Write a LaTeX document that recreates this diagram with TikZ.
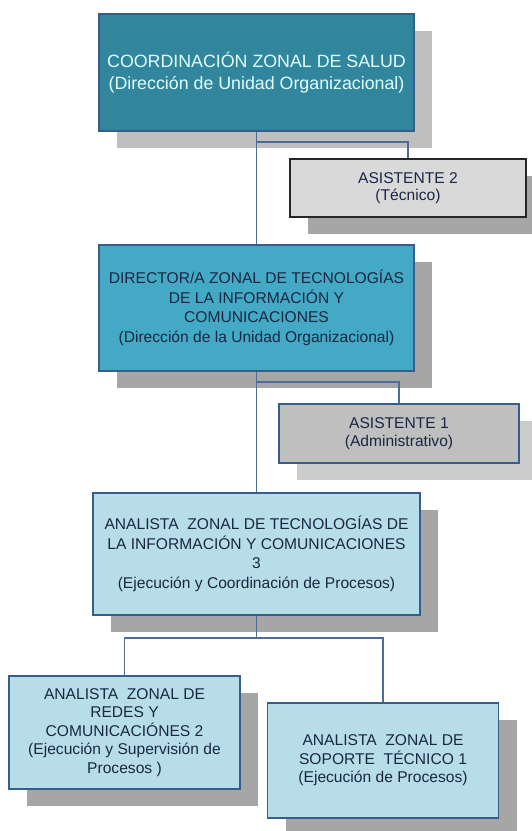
\documentclass[tikz,border=0pt]{standalone}
\usepackage{fontspec}
\setmainfont{Liberation Sans}
\usepackage[HTML]{xcolor}
\usetikzlibrary{positioning, shadows}

\definecolor{tealdark}{HTML}{31859C}
\definecolor{tealmid}{HTML}{44A9C4}
\definecolor{bluelight}{HTML}{B7DEE8}
\definecolor{boxline}{HTML}{385D8A}
\definecolor{linkline}{HTML}{4F6D94}
\definecolor{textnavy}{HTML}{1A2744}
\definecolor{shadelight}{HTML}{BFBFBF}
\definecolor{shadedark}{HTML}{A6A6A6}

\begin{document}
\begin{tikzpicture}[x=1pt, y=-1pt,
    box/.style={draw=boxline, line width=1.7pt, align=center, inner sep=2pt,
        text=textnavy, font=\fontsize{15.6}{19.5}\selectfont},
    shade/.style={drop shadow={shadow xshift=18pt, shadow yshift=-17pt, fill=#1, opacity=1}},
    link/.style={draw=linkline, line width=1.8pt}]

    \useasboundingbox (0,0) rectangle (531,831);

    % 1. Define Nodes
    \node (CZS) [box, shade=shadelight, fill=tealdark, text=white!88!cyan,
        minimum width=315pt, minimum height=117pt, font=\fontsize{17.8}{22.5}\selectfont]
        at (256.5,72.5) {COORDINACIÓN ZONAL DE SALUD\\(Dirección de Unidad Organizacional)};
    \node (A2) [box, shade=shadedark, fill=black!15, draw=black!85, line width=1.9pt,
        minimum width=236pt, minimum height=58pt, font=\fontsize{15.6}{17.5}\selectfont]
        at (408,188) {ASISTENTE 2\\(Técnico)};
    \node (DZ) [box, shade=shadedark, fill=tealmid,
        minimum width=315pt, minimum height=126pt]
        at (256.5,308) {DIRECTOR/A ZONAL DE TECNOLOGÍAS\\DE LA INFORMACIÓN Y\\COMUNICACIONES\\(Dirección de la Unidad Organizacional)};
    \node (A1) [box, shade=black!20, fill=black!25,
        minimum width=240pt, minimum height=59pt, font=\fontsize{15.6}{17.5}\selectfont]
        at (399,433.5) {ASISTENTE 1\\(Administrativo)};
    \node (AZ3) [box, shade=shadedark, fill=bluelight,
        minimum width=327pt, minimum height=122pt]
        at (256.5,554) {ANALISTA\ \ ZONAL DE TECNOLOGÍAS DE\\LA INFORMACIÓN Y COMUNICACIONES\\3\\(Ejecución y Coordinación de Procesos)};
    \node (AR2) [box, shade=shadedark, fill=bluelight,
        minimum width=231pt, minimum height=113pt, font=\fontsize{15.6}{18.6}\selectfont]
        at (124.5,732.5) {ANALISTA\ \ ZONAL DE\\REDES Y\\COMUNICACIÓNES 2\\(Ejecución y Supervisión de\\Procesos )};
    \node (AS1) [box, shade=shadedark, fill=bluelight,
        minimum width=231pt, minimum height=115pt, font=\fontsize{15.6}{18.6}\selectfont]
        at (383,760.5) {ANALISTA\ \ ZONAL DE\\SOPORTE\ \ TÉCNICO 1\\(Ejecución de Procesos)};

    % junctions of the connectors
    \coordinate (J1) at (256.5,142);
    \coordinate (J2) at (256.5,382);
    \coordinate (J3) at (256.5,638);

    % 2. Draw Lines
    \draw[link] (CZS.south) -- (DZ.north);
    \draw[link] (J1) -| (A2.north);
    \draw[link] (DZ.south) -- (AZ3.north);
    \draw[link] (J2) -| (A1.north);
    \draw[link] (AZ3.south) -- (J3);
    \draw[link] (AR2.north) |- (J3) -| (AS1.north);

\end{tikzpicture}
\end{document}
